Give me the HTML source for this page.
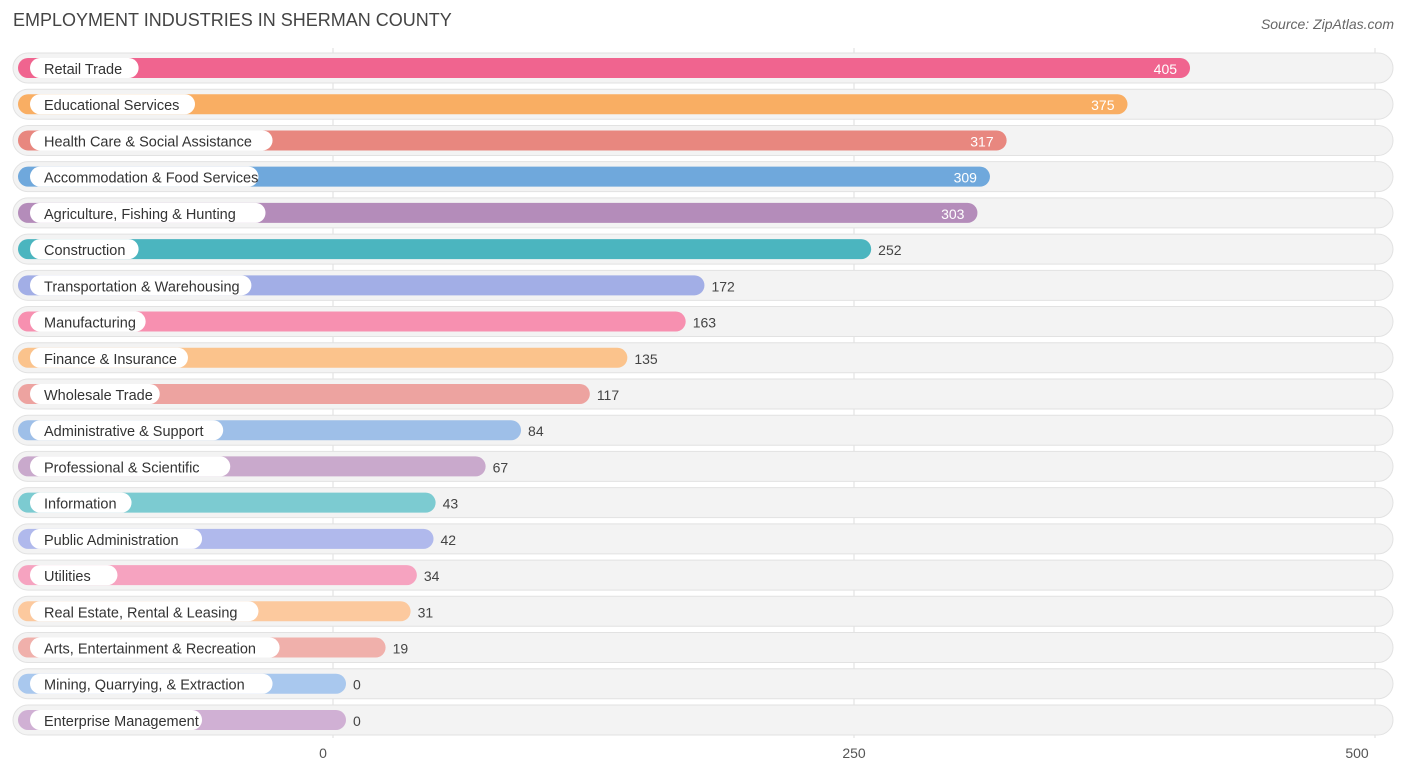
<!DOCTYPE html>
<html><head><meta charset="utf-8"><style>
body{margin:0;background:#fff;font-family:"Liberation Sans",sans-serif;}
#wrap{position:relative;width:1406px;height:776px;overflow:hidden;}
.title{position:absolute;left:13px;top:10px;font-size:18px;color:#444;}
.src{position:absolute;right:12px;top:16px;font-size:14px;color:#666;font-style:italic;}
</style></head><body>
<div id="wrap">
<div class="title">EMPLOYMENT INDUSTRIES IN SHERMAN COUNTY</div>
<div class="src">Source: ZipAtlas.com</div>
<svg id="chart" width="1406" height="776" style="position:absolute;left:0;top:0"></svg>
</div>
<script>
const categories=["Retail Trade","Educational Services","Health Care & Social Assistance","Accommodation & Food Services","Agriculture, Fishing & Hunting","Construction","Transportation & Warehousing","Manufacturing","Finance & Insurance","Wholesale Trade","Administrative & Support","Professional & Scientific","Information","Public Administration","Utilities","Real Estate, Rental & Leasing","Arts, Entertainment & Recreation","Mining, Quarrying, & Extraction","Enterprise Management"];
const values=[405,375,317,309,303,252,172,163,135,117,84,67,43,42,34,31,19,0,0];
const colors=["#f0648f","#f9ae63","#e8877f","#6fa8dc","#b48cba","#4bb5bf","#a2aee6","#f790b0","#fbc38c","#eda3a0","#9ebfe8","#c9a9cc","#7ccbd1","#b0b9ec","#f6a3c0","#fcc99e","#f0b0ab","#a9c8ee","#d0b0d4"];
const ticks=[0,250,500];
const NS="http://www.w3.org/2000/svg";
const svg=document.getElementById('chart');
const x=v=>333+v*(1042/500);
const y=i=>68+i*36.22;
function mk(t,a){const e=document.createElementNS(NS,t);for(const k in a)e.setAttribute(k,a[k]);svg.appendChild(e);return e;}
ticks.forEach(t=>{
 const l=mk('line',{x1:x(t),x2:x(t),y1:48,y2:738,stroke:'#ddd','stroke-width':1});
 
 
 const tx=mk('text',{x:x(t)+(t==0?-10:t==500?-18:0),y:758,'text-anchor':'middle','font-size':14,fill:'#555'});
 tx.textContent=t;
 
 
});
categories.forEach((c,i)=>{
 const cy=y(i);
 const bg=mk('rect',{x:13,y:cy-15,width:1380,height:30,rx:15,fill:'#f3f3f3',stroke:'#e2e2e2','stroke-width':1});
 
 
 const end=x(values[i])+13;
 const b=mk('rect',{x:18,y:cy-10,width:end-18,height:20,rx:10,fill:colors[i]});
 
 
 const tw=c.length*7.05+24;
 const p=mk('rect',{x:30,y:cy-10,width:tw,height:20,rx:10,fill:'#fff'});
 
 
 const lt=mk('text',{x:44,y:cy+6,'font-size':14.5,fill:'#333'});
 lt.textContent=c;
 
 
 const inside=values[i]>280;
 const vt=mk('text',{x:inside?end-13:end+7,y:cy+6,'font-size':14,fill:inside?'#fff':'#444','text-anchor':inside?'end':'start'});
 vt.textContent=values[i];
 
 
});
</script>
</body></html>
